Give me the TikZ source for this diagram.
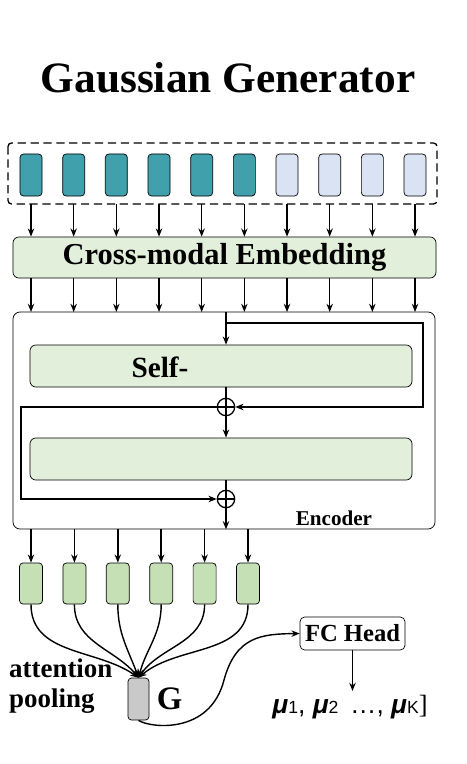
\documentclass[tikz,border=0pt]{standalone}
\usepackage{fontspec}
\setmainfont{Liberation Serif}
\newfontfamily\labelsans{Liberation Sans}
\usetikzlibrary{arrows.meta, positioning, calc}
\definecolor{tokteal}{RGB}{64,160,172}
\definecolor{tokblue}{RGB}{218,227,243}
\definecolor{boxgreen}{RGB}{226,239,218}
\definecolor{outgreen}{RGB}{197,224,180}
\definecolor{poolgray}{RGB}{201,201,201}
\newcommand{\mubold}[1]{{\bfseries\itshape μ}{\fontsize{15}{15}\selectfont #1}}

\begin{document}
\begin{tikzpicture}[x=0.03cm, y=-0.03cm, >={Stealth[length=7pt,width=5.5pt]},
    token/.style={draw, rounded corners=3pt, minimum width=0.66cm, minimum height=1.26cm, inner sep=0pt, line width=0.6pt},
    block/.style={draw, rounded corners=5pt, fill=boxgreen, inner sep=0pt, line width=0.6pt},
    sumnode/.style={circle, draw, line width=1.1pt, minimum size=0.52cm, inner sep=0pt,
        path picture={\draw[line width=1.1pt] (path picture bounding box.north) -- (path picture bounding box.south)
        (path picture bounding box.west) -- (path picture bounding box.east);}},
    arr/.style={->, line width=1.2pt},
    res/.style={line width=1.6pt}]
    \useasboundingbox (0,0) rectangle (466,764);

    \node[font=\fontsize{37}{40}\selectfont\bfseries] (title) at (228,78) {Gaussian Generator};

    % input tokens
    \draw[dashed, dash pattern=on 7pt off 4pt, line width=1.1pt, rounded corners=3pt] (8,143) rectangle (437,204);
    \foreach \i in {0,...,9} {
        \ifnum\i<6 \def\tokcol{tokteal}\else \def\tokcol{tokblue}\fi
        \node[token, fill=\tokcol] (t\i) at ({31+42.67*\i},175) {};
    }
    \node[block, minimum width=12.69cm, minimum height=1.23cm, font=\fontsize{26}{28}\selectfont\bfseries] (cme) at (224.5,257.5) {Cross-modal Embedding};
    \foreach \i in {0,...,9} {
        \coordinate (tin\i) at ({31+42.67*\i},204);
        \draw[arr] (tin\i) -- (tin\i |- cme.north);
        \coordinate (eout\i) at ({31+42.67*\i},312);
        \draw[arr] (cme.south -| eout\i) -- (eout\i);
    }

    % encoder
    \node[draw, rounded corners=6pt, line width=0.6pt, minimum width=12.66cm, minimum height=6.51cm] (enc) at (224,420.5) {};
    \node[block, minimum width=11.46cm, minimum height=1.26cm] (self) at (221,366) {};
    \node[font=\fontsize{25}{27}\selectfont\bfseries] (selftxt) at (160,367) {Self-};
    \node[block, minimum width=11.46cm, minimum height=1.26cm] (ffn) at (221,459) {};
    \node[sumnode] (sum1) at (226,407) {};
    \node[sumnode] (sum2) at (226,499) {};
    \node[font=\fontsize{18}{20}\selectfont\bfseries] (enctxt) at (334,518) {Encoder};
    \coordinate (encin) at (226,312);
    \coordinate (r1) at (226,323);
    \draw[res,->] (encin) -- (encin |- self.north);
    \draw[res,->] (r1) -- ++(197,0) |- (sum1.east);
    \draw[res] (self.south -| sum1) -- (sum1.north);
    \draw[res,->] (sum1.south) -- (sum1 |- ffn.north);
    \draw[res,->] (sum1.west) -- ++(-196,0) |- (sum2.west);
    \draw[res] (ffn.south -| sum2) -- (sum2.north);
    \draw[res,->] (sum2.south) -- (sum2 |- enc.south);

    % pooled outputs
    \node[draw, fill=poolgray, rounded corners=3pt, line width=0.6pt, minimum width=0.63cm, minimum height=1.26cm, inner sep=0pt] (G) at (138.5,699) {};
    \node[font=\fontsize{28}{30}\selectfont\bfseries, right=0.1cm of G] (gtxt) {G};
    \foreach \i/\ang in {0/145,1/130,2/110,3/75,4/55,5/40} {
        \node[token, fill=outgreen, minimum width=0.69cm, minimum height=1.23cm] (o\i) at ({31+43.4*\i},583.5) {};
        \coordinate (oin\i) at ({31+43.4*\i},529);
        \draw[arr] (oin\i) -- (o\i.north);
        \draw[arr] (o\i.south) to[out=-90, in=\ang] (G.north);
    }
    \node[align=left, anchor=west, font=\fontsize{23}{25}\selectfont\bfseries] (pooltxt) at (5,686) {attention\\pooling};

    % head
    \node[draw, rounded corners=4pt, fill=white, line width=0.6pt, minimum width=3.15cm, minimum height=0.99cm, inner sep=0pt,
        font=\fontsize{21}{23}\selectfont\bfseries] (fc) at (352.5,633.5) {FC Head};
    \draw[arr] (G.south) .. controls (150,728) and (210,735) .. (224,680)
        .. controls (236,636) and (262,634) .. (fc.west);
    \node[font=\fontsize{22.5}{24}\selectfont\labelsans, anchor=north] (mu) at (350,691) {\mubold{1}, \mubold{2} \,…, \mubold{K}{\rmfamily]}};
    \draw[arr] (fc.south) -- (mu.north -| fc.south);
\end{tikzpicture}
\end{document}
